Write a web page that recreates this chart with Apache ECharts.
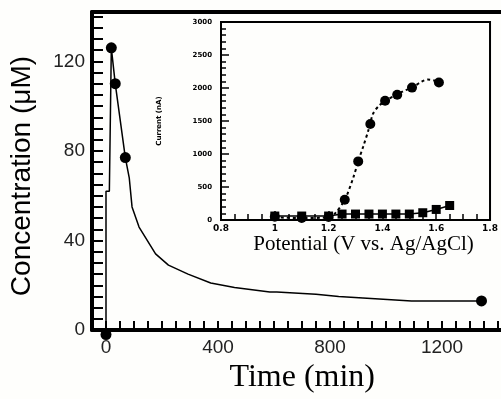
<!DOCTYPE html>
<html>
<head>
<meta charset="utf-8">
<script src="https://cdn.jsdelivr.net/npm/echarts@6/dist/echarts.min.js"></script>
<style>
html,body{margin:0;padding:0;background:#fefefc;}
#main{width:501px;height:399px;}
</style>
</head>
<body>
<div id="main"></div>
<script>
// main plot: concentration vs time
var timePts = [0, 19, 33, 69, 1341];
var concPts = [-2, 126, 110, 77, 13];
// decay curve as drawn in the figure
var fitTime = [0, 0, 12, 19, 33, 69, 83, 93, 118, 177, 223, 293, 374, 459, 585, 610, 750, 831, 961, 1091, 1341];
var fitConc = [-2, 62, 62, 126, 110, 77, 68, 55, 46, 34, 29, 25, 21, 19, 17, 17, 16, 15, 14, 13, 13];

// inset: current vs potential
var potCircle = [1.0, 1.1, 1.2, 1.26, 1.31, 1.355, 1.41, 1.455, 1.51, 1.61];
var curCircle = [50, 30, 46, 306, 888, 1455, 1807, 1899, 2006, 2083];
var potSquare = [1.0, 1.1, 1.2, 1.25, 1.3, 1.35, 1.4, 1.45, 1.5, 1.55, 1.6, 1.65];
var curSquare = [60, 60, 60, 90, 90, 90, 90, 90, 90, 110, 160, 220];
// dotted sigmoid through the circles
var fitPot = [1.0, 1.1, 1.2, 1.224, 1.26, 1.293, 1.31, 1.329, 1.347, 1.365, 1.387, 1.412, 1.474, 1.51, 1.546, 1.568, 1.593, 1.61];
var fitCur = [40, 30, 40, 100, 306, 658, 888, 1118, 1348, 1608, 1730, 1807, 1945, 2006, 2098, 2128, 2113, 2083];

function zip(a, b) {
    var out = [];
    for (var i = 0; i < a.length; i++) out.push([a[i], b[i]]);
    return out;
}

var chart = echarts.init(document.getElementById('main'));

var tickFont = {color: '#222', fontSize: 19, fontFamily: 'Liberation Sans'};
var smallFont = {color: '#000', fontSize: 7, fontWeight: 'bold', fontFamily: 'DejaVu Sans'};

var option = {
    backgroundColor: '#fefefc',
    animation: false,
    grid: [
        {left: 90, top: 12, right: -4, bottom: 65},
        {left: 221, top: 22, right: 4, bottom: 179, show: true, borderColor: '#000', borderWidth: 2, backgroundColor: '#fefefc'}
    ],
    xAxis: [
        {
            gridIndex: 0, type: 'value', min: -50, max: 1409, interval: 50,
            axisLine: {show: true, lineStyle: {color: '#000', width: 4}},
            axisTick: {show: true, inside: true, length: 9, lineStyle: {color: '#000', width: 2}},
            splitLine: {show: false},
            axisLabel: Object.assign({margin: 8, showMaxLabel: false, formatter: function (v) {
                return (v >= 0 && v % 400 === 0) ? String(v) : '';
            }}, tickFont),
            name: 'Time (min)', nameLocation: 'middle', nameGap: 30,
            nameTextStyle: {color: '#000', fontSize: 32, fontFamily: 'Liberation Serif', padding: [0, 0, 0, 12]}
        },
        {
            gridIndex: 1, type: 'value', min: 0.8, max: 1.8, interval: 0.2,
            axisLine: {show: true, lineStyle: {color: '#000', width: 2}},
            axisTick: {show: true, inside: true, length: 9, lineStyle: {color: '#000', width: 1.5}},
            minorTick: {show: true, splitNumber: 4, length: 6, lineStyle: {color: '#000', width: 1.5}},
            splitLine: {show: false},
            axisLabel: Object.assign({margin: 4, formatter: function (v) {
                var r = Math.round(v * 10) / 10;
                return r === 1 ? '1' : r.toFixed(1);
            }}, smallFont, {fontSize: 9}),
            name: 'Potential (V vs. Ag/AgCl)', nameLocation: 'middle', nameGap: 13,
            nameTextStyle: {color: '#000', fontSize: 21, fontFamily: 'Liberation Serif', padding: [0, 0, 0, 16]}
        },
        {
            // top frame line of the main plot; its zero sits on the left edge
            gridIndex: 0, type: 'value', position: 'top', min: 0, max: 1,
            axisLine: {show: true, lineStyle: {color: '#000', width: 4}},
            axisTick: {show: false}, axisLabel: {show: false}, splitLine: {show: false}
        }
    ],
    yAxis: [
        {
            gridIndex: 0, type: 'value', min: 0, max: 142, interval: 5, z: 10,
            axisLine: {show: true, onZeroAxisIndex: 2, lineStyle: {color: '#000', width: 4}},
            axisTick: {show: true, inside: true, length: 11, lineStyle: {color: '#000', width: 2}},
            splitLine: {show: false},
            axisLabel: Object.assign({margin: 7, formatter: function (v) {
                return v % 40 === 0 ? String(v) : '';
            }}, tickFont),
            name: 'Concentration (\u03bcM)', nameLocation: 'middle', nameGap: 56, nameRotate: 90,
            nameTextStyle: {color: '#000', fontSize: 28, fontFamily: 'Liberation Sans', padding: [0, 10, 0, 0]}
        },
        {
            gridIndex: 1, type: 'value', min: 0, max: 3000, interval: 500,
            axisLine: {show: true, lineStyle: {color: '#000', width: 2}},
            axisTick: {show: true, inside: true, length: 8, lineStyle: {color: '#000', width: 1.5}},
            minorTick: {show: true, splitNumber: 5, length: 5, lineStyle: {color: '#000', width: 1.5}},
            splitLine: {show: false},
            axisLabel: Object.assign({margin: 9, formatter: function (v) { return String(v); }}, smallFont),
            name: 'Current (nA)', nameLocation: 'middle', nameGap: 58, nameRotate: 90,
            nameTextStyle: smallFont
        }
    ],
    series: [
        {
            name: 'decay', type: 'line', xAxisIndex: 0, yAxisIndex: 0,
            data: zip(fitTime, fitConc), showSymbol: false, clip: false,
            lineStyle: {color: '#000', width: 1.5}
        },
        {
            name: 'conc', type: 'scatter', xAxisIndex: 0, yAxisIndex: 0,
            data: zip(timePts, concPts), symbol: 'circle', symbolSize: 11, clip: false,
            itemStyle: {color: '#000', opacity: 1}, z: 4
        },
        {
            name: 'sigmoid', type: 'line', xAxisIndex: 1, yAxisIndex: 1, smooth: 0.3,
            data: zip(fitPot, fitCur), showSymbol: false,
            lineStyle: {color: '#000', width: 2, type: [3, 3]}, z: 6
        },
        {
            name: 'circles', type: 'scatter', xAxisIndex: 1, yAxisIndex: 1,
            data: zip(potCircle, curCircle), symbol: 'circle', symbolSize: 10,
            itemStyle: {color: '#000', opacity: 1}, z: 7
        },
        {
            name: 'squares', type: 'line', xAxisIndex: 1, yAxisIndex: 1,
            data: zip(potSquare, curSquare), symbol: 'rect', symbolSize: 9, showAllSymbol: true,
            lineStyle: {color: '#000', width: 1.5}, itemStyle: {color: '#000'}, z: 7
        }
    ]
};

chart.setOption(option);
</script>
</body>
</html>
